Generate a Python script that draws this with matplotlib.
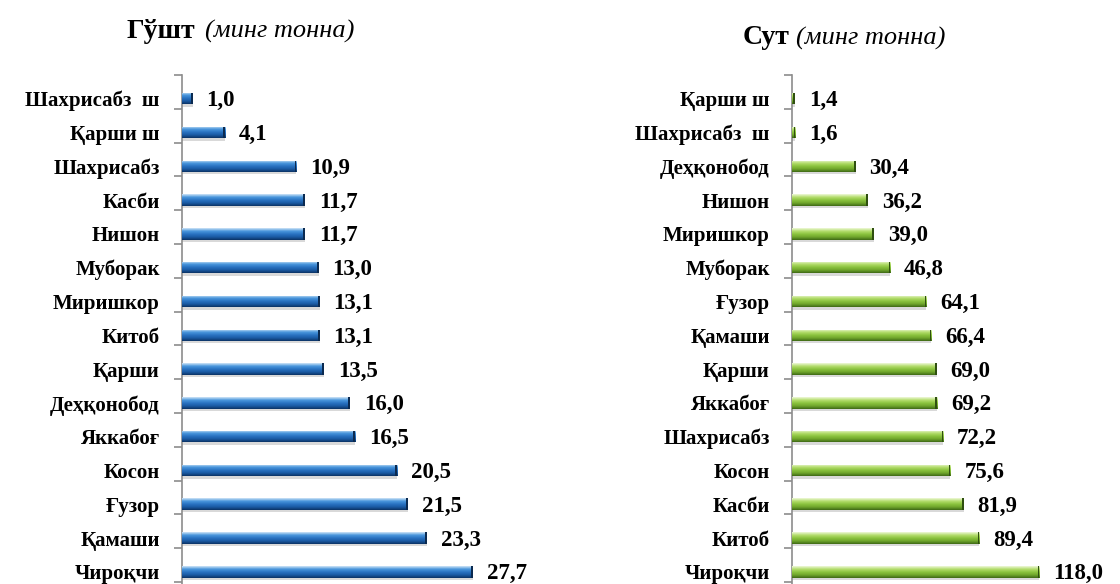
import matplotlib
matplotlib.use('Agg')
import matplotlib.pyplot as plt
import numpy as np
from matplotlib.colors import LinearSegmentedColormap

plt.rcParams['font.family'] = ['Liberation Serif', 'DejaVu Serif']

meat_names = ["Шахрисабз  ш", "Қарши ш", "Шахрисабз", "Касби", "Нишон", "Муборак",
              "Миришкор", "Китоб", "Қарши", "Деҳқонобод", "Яккабоғ", "Косон",
              "Ғузор", "Қамаши", "Чироқчи"]
meat_vals = [1.0, 4.1, 10.9, 11.7, 11.7, 13.0, 13.1, 13.1, 13.5, 16.0, 16.5, 20.5,
             21.5, 23.3, 27.7]

milk_names = ["Қарши ш", "Шахрисабз  ш", "Деҳқонобод", "Нишон", "Миришкор", "Муборак",
              "Ғузор", "Қамаши", "Қарши", "Яккабоғ", "Шахрисабз", "Косон",
              "Касби", "Китоб", "Чироқчи"]
milk_vals = [1.4, 1.6, 30.4, 36.2, 39.0, 46.8, 64.1, 66.4, 69.0, 69.2, 72.2, 75.6,
             81.9, 89.4, 118.0]

blue_grad = ["#cfe4f7", "#4a97dc", "#2a73c2", "#1a5aa3", "#0c3466"]
green_grad = ["#eef8d8", "#b4dd6e", "#8cc43f", "#6fa52c", "#3f6a16"]

fig = plt.figure(figsize=(11.2, 5.84), dpi=100)


def draw_panel(rect, names, vals, xmax, grad, capcol):
    ax = fig.add_axes(rect)
    n = len(names)
    y = np.arange(n)
    h = 0.34
    # faint shadow
    ax.barh(y + 0.07, vals, height=h, left=0, color="#d9d9d9", zorder=1)
    bars = ax.barh(y, vals, height=h, color=grad[2], zorder=2)
    cmap = LinearSegmentedColormap.from_list("g", grad)
    g = cmap(np.linspace(0, 1, 50))[:, None, :3]
    for b, v, yy in zip(bars, vals, y):
        im = ax.imshow(g, extent=(0, v, yy + h / 2, yy - h / 2), origin='upper',
                       aspect='auto', zorder=3)
        im.set_clip_path(b)
        ax.barh(yy, xmax * 0.006, left=v - xmax * 0.006, height=h,
                color=capcol, zorder=4)
        ax.annotate(f"{v:.1f}".replace(".", ","), xy=(v, yy), xytext=(10, -1.5),
                    textcoords='offset points', ha='left', va='center',
                    fontsize=16.5, fontweight='bold')
    ax.set_xlim(0, xmax)
    ax.set_ylim(14.36, -0.7)
    ax.set_yticks(y)
    ax.set_yticklabels(names, fontsize=15, fontweight='bold')
    ax.tick_params(axis='y', which='major', length=0, pad=16)
    ax.set_yticks(np.arange(-0.7, 14.4, 1.0), minor=True)
    ax.tick_params(axis='y', which='minor', length=6, color='#8c8c8c', width=1.2)
    ax.set_xticks([])
    for s in ['top', 'right', 'bottom']:
        ax.spines[s].set_visible(False)
    ax.spines['left'].set_color('#8c8c8c')
    ax.spines['left'].set_linewidth(1.2)
    ax.patch.set_alpha(0)
    return ax


draw_panel([182 / 1120, 0.0, 315 / 1120, 509 / 584], meat_names, meat_vals, 30,
           blue_grad, "#0b2a50")
draw_panel([792 / 1120, 0.0, 262 / 1120, 509 / 584], milk_names, milk_vals, 125,
           green_grad, "#2f4f10")

fig.text(195 / 1120, 1 - 31 / 584, "Гўшт", ha='right', va='center',
         fontsize=20, fontweight='bold')
fig.text(205 / 1120, 1 - 31 / 584, "(минг тонна)", ha='left', va='center',
         fontsize=19, style='italic')
fig.text(790 / 1120, 1 - 38 / 584, "Сут", ha='right', va='center',
         fontsize=20, fontweight='bold')
fig.text(796 / 1120, 1 - 38 / 584, "(минг тонна)", ha='left', va='center',
         fontsize=19, style='italic')

fig.savefig("out.png", dpi=100)
